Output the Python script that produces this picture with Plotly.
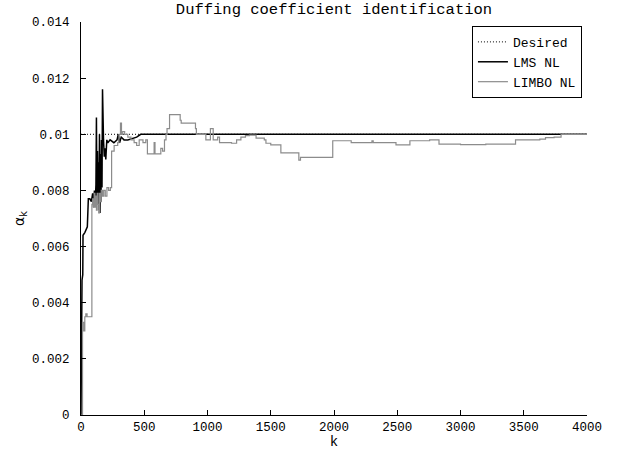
import plotly.graph_objects as go

# ---- data ----
k_desired = [0, 4000]
v_desired = [0.01, 0.01]

k_lms = [0, 2, 8, 14, 16, 30, 40, 50, 58, 70, 82, 92, 100, 106, 112, 118, 122, 126, 130, 134,
         138, 142, 146, 150, 154, 158, 162, 166, 170, 174, 178, 184, 190, 196, 204, 212, 230, 260,
         285, 295, 305, 318, 340, 370, 406, 440, 472, 512, 4000]
v_lms = [0, 0.0046, 0.0048, 0.0050, 0.0064, 0.0065, 0.0066, 0.0067, 0.0077, 0.0077, 0.0076, 0.0079,
         0.0074, 0.0080, 0.0075, 0.0082, 0.0106, 0.0075, 0.0094, 0.0078, 0.0090, 0.0073, 0.0100,
         0.0072, 0.0093, 0.0076, 0.0098, 0.0081, 0.0116, 0.0104, 0.0098, 0.0092, 0.0095, 0.0091,
         0.0098, 0.0097, 0.0098, 0.0097, 0.0098, 0.0100, 0.0097, 0.0099, 0.0098, 0.0098, 0.00985,
         0.0099, 0.0100, 0.0100, 0.0100]

k_limbo = [0, 12, 22, 30, 38, 48, 86, 92, 98, 104, 110, 116, 122, 128, 134, 140, 146, 152, 160, 170,
           180, 192, 205, 218, 232, 242, 262, 290, 300, 312, 320, 330, 345, 370, 395, 420, 440, 460,
           490, 512, 525, 578, 585, 631, 645, 660, 672, 680, 700, 784, 792, 905, 912, 935, 987, 1023,
           1045, 1080, 1095, 1190, 1230, 1264, 1300, 1331, 1384, 1449, 1462, 1500, 1580, 1722, 1735,
           1990, 2136, 2300, 2310, 2340, 2490, 2600, 2756, 2830, 3000, 3200, 3435, 3560, 3627, 3672,
           3740, 3795, 4000]
v_limbo = [0, 0.0033, 0.0030, 0.0035, 0.0036, 0.0035, 0.0075, 0.0077, 0.0074, 0.0079, 0.0074, 0.0078,
           0.0073, 0.0079, 0.0075, 0.0072, 0.0079, 0.0076, 0.0080, 0.0078, 0.0080, 0.0078, 0.0081,
           0.0080, 0.0081, 0.0094, 0.0096, 0.0097, 0.0100, 0.0104, 0.0100, 0.0101, 0.0100, 0.0099,
           0.0098, 0.0097, 0.0096, 0.0098, 0.0097, 0.0098, 0.0093, 0.0097, 0.0093, 0.0095, 0.0094,
           0.0098, 0.0100, 0.0102, 0.0107, 0.0105, 0.0104, 0.0102, 0.0100, 0.0100, 0.0098, 0.0102,
           0.0098, 0.0099, 0.0097, 0.00968, 0.0098, 0.0099, 0.00995, 0.00997, 0.00986, 0.0098,
           0.00968, 0.00962, 0.00934, 0.00908, 0.00918, 0.00977, 0.0097, 0.00977, 0.0097, 0.0097,
           0.00962, 0.00977, 0.0098, 0.00965, 0.00963, 0.00965, 0.0098, 0.0098, 0.00983, 0.00988,
           0.0099, 0.0100, 0.0100]

x_ticks = [0, 500, 1000, 1500, 2000, 2500, 3000, 3500, 4000]
y_ticks = [0, 0.002, 0.004, 0.006, 0.008, 0.01, 0.012, 0.014]
y_tick_text = ["0", "0.002", "0.004", "0.006", "0.008", "0.01", "0.012", "0.014"]

assert len(k_lms) == len(v_lms)
assert len(k_limbo) == len(v_limbo)

MONO = "Liberation Mono, Courier New, monospace"

fig = go.Figure()
fig.add_trace(go.Scatter(x=k_desired, y=v_desired, mode="lines", name="Desired",
                         line=dict(color="black", width=1, dash="1px,2px")))
fig.add_trace(go.Scatter(x=k_lms, y=v_lms, mode="lines", name="LMS NL",
                         line=dict(color="black", width=1.5)))
fig.add_trace(go.Scatter(x=k_limbo, y=v_limbo, mode="lines", name="LIMBO NL",
                         line=dict(color="#8c8c8c", width=1.2, shape="hv")))

axis_common = dict(showline=True, linecolor="black", linewidth=1, ticks="inside", ticklen=5,
                   tickcolor="black", showgrid=False, zeroline=False, mirror=False,
                   automargin=False,
                   tickfont=dict(family=MONO, size=12.5, color="black"))

fig.update_layout(
    width=626, height=450,
    margin=dict(l=81, r=39, t=22, b=35),
    paper_bgcolor="white", plot_bgcolor="white",
    title=dict(text="Duffing coefficient identification", x=0.5, xref="paper",
               y=0.982, yref="container", yanchor="middle",
               font=dict(family=MONO, size=15.5, color="black")),
    xaxis=dict(range=[0, 4000], tickvals=x_ticks, ticklabelstandoff=0,
               title=dict(text="k", standoff=0, font=dict(family=MONO, size=14, color="black")),
               **axis_common),
    yaxis=dict(range=[0, 0.014], tickvals=y_ticks, ticktext=y_tick_text, ticklabelstandoff=8,
               title=dict(text="α<sub>k</sub>", standoff=4,
                          font=dict(family="DejaVu Sans", size=14, color="black")),
               **axis_common),
    legend=dict(x=0.99, y=0.99, xanchor="right", yanchor="top", bgcolor="white",
                bordercolor="black", borderwidth=1, tracegroupgap=0,
                font=dict(family=MONO, size=13, color="black")),
    showlegend=True,
)

fig.write_html("out.html")
